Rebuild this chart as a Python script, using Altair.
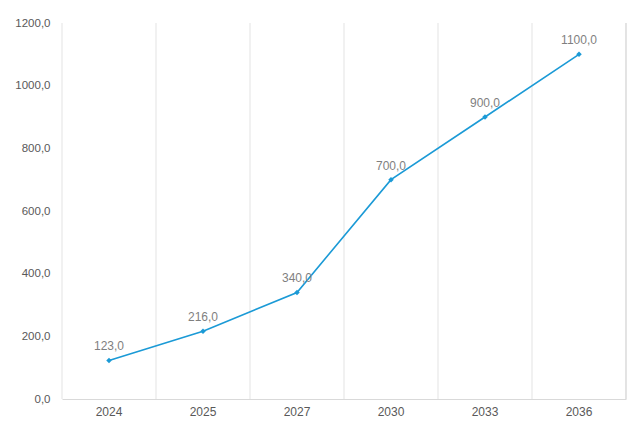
import altair as alt
import pandas as pd

years = ["2024", "2025", "2027", "2030", "2033", "2036"]
values = [123.0, 216.0, 340.0, 700.0, 900.0, 1100.0]

df = pd.DataFrame({"year": years, "value": values})

W, H = 564, 376
LINE = "#1b9ad6"
FONT = "Liberation Sans"

xaxis = alt.Axis(title=None, labelAngle=0, ticks=False, grid=False,
                 domain=True, domainColor="#d9d9d9", labelColor="#595959",
                 labelFontSize=12, labelPadding=7, labelFont=FONT)
xscale = alt.Scale(paddingInner=0, paddingOuter=0)

base = alt.Chart(df).encode(
    x=alt.X("year:N", sort=years, scale=xscale, axis=xaxis),
    y=alt.Y("value:Q", scale=alt.Scale(domain=[0, 1200]),
            axis=alt.Axis(title=None, values=[0, 200, 400, 600, 800, 1000, 1200],
                          labelExpr="replace(format(datum.value, '.1f'), '.', ',')",
                          grid=False, domain=False, ticks=False, labelPadding=12,
                          labelColor="#595959", labelFontSize=11.5, labelFont=FONT)))

grid = alt.Chart(df).mark_rule(color="#e3e3e3", strokeWidth=1).encode(
    x=alt.X("year:N", sort=years, bandPosition=0, scale=xscale, axis=xaxis),
    y=alt.value(0), y2=alt.value(H))

right_edge = alt.Chart(df).mark_rule(color="#e3e3e3", strokeWidth=1).encode(
    x=alt.value(W), y=alt.value(0), y2=alt.value(H))

line = base.mark_line(color=LINE, strokeWidth=1.6)
pts = base.mark_point(shape="diamond", filled=True, color=LINE, size=30, opacity=1)
labels = base.transform_calculate(
    lab="replace(format(datum.value, '.1f'), '.', ',')"
).mark_text(dy=-14, color="#7f7f7f", fontSize=12, font=FONT).encode(text="lab:N")

chart = alt.layer(grid, right_edge, line, pts, labels).properties(
    width=W, height=H,
    background="white",
    autosize=alt.AutoSizeParams(type="none"),
    padding={"left": 62, "top": 23, "right": 11, "bottom": 26},
).configure_view(strokeWidth=0, stroke="transparent")

chart.save("out.html", embed_options={"renderer": "svg", "actions": False})
